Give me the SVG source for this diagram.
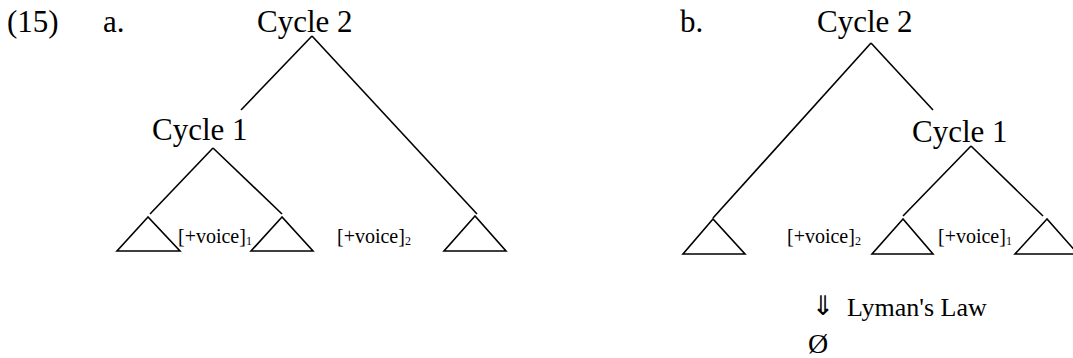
<svg xmlns="http://www.w3.org/2000/svg" width="1073" height="358" viewBox="0 0 1073 358">
<style>
text{font-family:'Liberation Serif','Times New Roman',Times,'DejaVu Serif',serif;fill:#000}
.big{font-size:31px}
.lab{font-size:20px}
.sub{font-size:12px}
.e{stroke:#000;stroke-width:1.6;fill:none;stroke-linecap:butt}
.tri{stroke:#000;stroke-width:1.6;fill:none;stroke-linejoin:miter}
</style>
<rect width="1073" height="358" fill="#fff"/>
<g id="labels">
<text class="big" x="7" y="32">(15)</text>
<text class="big" x="103" y="32">a.</text>
<text class="big" x="680" y="32">b.</text>
</g>
<g id="connectors">
<line class="e" x1="312" y1="36" x2="241" y2="110"/>
<line class="e" x1="312" y1="36" x2="477" y2="214"/>
<line class="e" x1="213" y1="148" x2="150" y2="214"/>
<line class="e" x1="213" y1="148" x2="282" y2="214"/>
<line class="e" x1="871" y1="43" x2="933" y2="110"/>
<line class="e" x1="871" y1="43" x2="713" y2="218"/>
<line class="e" x1="971" y1="146" x2="903" y2="216"/>
<line class="e" x1="971" y1="146" x2="1043" y2="216"/>
</g>
<g id="a-cycle2"><text class="big" x="257" y="32">Cycle 2</text></g>
<g id="a-cycle1"><text class="big" x="152" y="140">Cycle 1</text></g>
<g id="a-tri1"><polygon class="tri" points="148,217 117,251 180,251"/></g>
<g id="a-tri2"><polygon class="tri" points="282,217 251,251 313,251"/></g>
<g id="a-tri3"><polygon class="tri" points="475,216 444,251 506,251"/></g>
<g id="a-voice1"><text class="lab" x="178" y="243">[+voice]<tspan class="sub" dy="2">1</tspan></text></g>
<g id="a-voice2"><text class="lab" x="337" y="243">[+voice]<tspan class="sub" dy="2">2</tspan></text></g>
<g id="b-cycle2"><text class="big" x="817" y="32">Cycle 2</text></g>
<g id="b-cycle1"><text class="big" x="912" y="142">Cycle 1</text></g>
<g id="b-tri1"><polygon class="tri" points="713,219 683,254 745,254"/></g>
<g id="b-tri2"><polygon class="tri" points="903,219 872,254 933,254"/></g>
<g id="b-tri3"><polygon class="tri" points="1047,219 1015,254 1078,254"/></g>
<g id="b-voice2"><text class="lab" x="787" y="243">[+voice]<tspan class="sub" dy="2">2</tspan></text></g>
<g id="b-voice1"><text class="lab" x="938" y="243">[+voice]<tspan class="sub" dy="2">1</tspan></text></g>
<g id="rule">
<text x="823" y="315" text-anchor="middle" style="font-family:'DejaVu Sans',sans-serif;font-size:27px">⇓</text>
<text x="847" y="316" style="font-size:26px">Lyman's Law</text>
</g>
<g id="result"><text x="808" y="353" style="font-size:28px">Ø</text></g>
</svg>
